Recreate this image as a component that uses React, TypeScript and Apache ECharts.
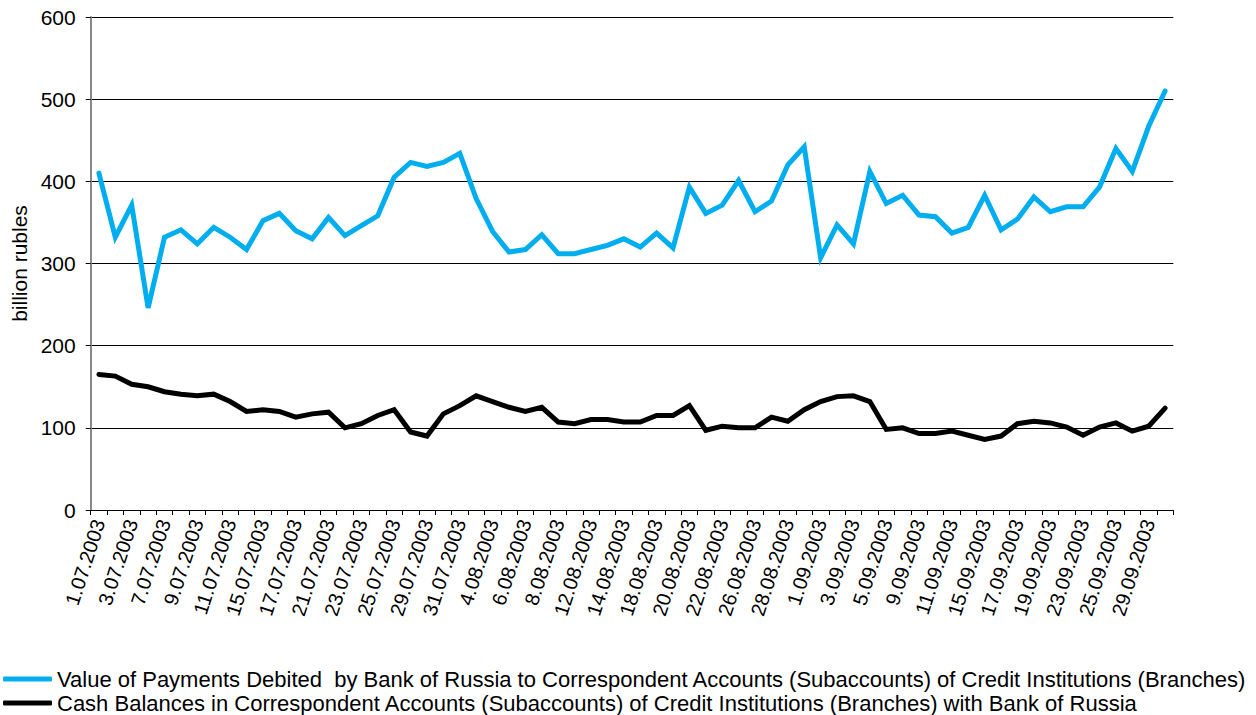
import React, { useEffect, useRef } from "react";
import * as echarts from "echarts";

const dates: string[] = [
  "1.07.2003", "2.07.2003", "3.07.2003", "4.07.2003", "7.07.2003", "8.07.2003", "9.07.2003", "10.07.2003",
  "11.07.2003", "14.07.2003", "15.07.2003", "16.07.2003", "17.07.2003", "18.07.2003", "21.07.2003", "22.07.2003",
  "23.07.2003", "24.07.2003", "25.07.2003", "28.07.2003", "29.07.2003", "30.07.2003", "31.07.2003",
  "1.08.2003", "4.08.2003", "5.08.2003", "6.08.2003", "7.08.2003", "8.08.2003", "11.08.2003", "12.08.2003",
  "13.08.2003", "14.08.2003", "15.08.2003", "18.08.2003", "19.08.2003", "20.08.2003", "21.08.2003", "22.08.2003",
  "25.08.2003", "26.08.2003", "27.08.2003", "28.08.2003", "29.08.2003",
  "1.09.2003", "2.09.2003", "3.09.2003", "4.09.2003", "5.09.2003", "8.09.2003", "9.09.2003", "10.09.2003",
  "11.09.2003", "12.09.2003", "15.09.2003", "16.09.2003", "17.09.2003", "18.09.2003", "19.09.2003", "22.09.2003",
  "23.09.2003", "24.09.2003", "25.09.2003", "26.09.2003", "29.09.2003", "30.09.2003",
];

const paymentsDebited: number[] = [
  410, 332, 371, 246, 332, 341, 324, 344, 332, 317, 352, 361, 340, 330, 356, 334, 346, 358, 405, 423, 418, 423, 434,
  379, 339, 314, 317, 335, 312, 312, 317, 322, 330, 320, 337, 319, 393, 361, 371, 401, 363, 376, 420, 442, 307, 347, 324,
  412, 373, 383, 359, 357, 337, 344, 383, 341, 354, 381, 363, 369, 369, 393, 440, 412, 467, 510,
];

const cashBalances: number[] = [
  165, 163, 153, 150, 144, 141, 139, 141, 132, 120, 122, 120, 113, 117, 119, 100, 105, 115, 122, 95, 90, 117, 127,
  139, 132, 125, 120, 125, 107, 105, 110, 110, 107, 107, 115, 115, 127, 97, 102, 100, 100, 113, 108, 122, 132, 138, 139,
  132, 98, 100, 93, 93, 96, 91, 86, 90, 105, 108, 106, 101, 91, 101, 106, 96, 102, 124,
];

const seriesNames: string[] = [
  "Value of Payments Debited  by Bank of Russia to Correspondent Accounts (Subaccounts) of Credit Institutions (Branches)",
  "Cash Balances in Correspondent Accounts (Subaccounts) of Credit Institutions (Branches) with Bank of Russia",
];

const yAxisName = "billion rubles";

const FONT = "'Liberation Sans', Arial, Helvetica, sans-serif";

export default function App() {
  const ref = useRef<HTMLDivElement>(null);
  useEffect(() => {
    if (!ref.current) return;
    const chart = echarts.init(ref.current, undefined, { renderer: "svg" });
    chart.setOption({
      animation: false,
      backgroundColor: "#ffffff",
      textStyle: { fontFamily: FONT, color: "#000" },
      grid: { left: 90.7, right: 82.7, top: 17, bottom: 205, containLabel: false },
      legend: {
        orient: "vertical",
        left: 3,
        top: 668,
        itemWidth: 49,
        itemHeight: 5,
        itemGap: 2,
        icon: "roundRect",
        padding: 0,
        textStyle: { fontSize: 22, color: "#000", fontFamily: FONT },
        data: [seriesNames[0], seriesNames[1]],
      },
      xAxis: {
        type: "category",
        data: dates,
        boundaryGap: true,
        axisLine: { show: true, lineStyle: { color: "#000", width: 1 } },
        axisTick: { show: true, interval: 0, length: 5, lineStyle: { color: "#000" } },
        axisLabel: {
          interval: 1,
          rotate: 72,
          margin: 10,
          fontSize: 20,
          color: "#000",
          fontFamily: FONT,
        },
        splitLine: { show: false },
      },
      yAxis: {
        type: "value",
        min: 0,
        max: 600,
        interval: 100,
        name: yAxisName,
        nameLocation: "middle",
        nameRotate: 90,
        nameGap: 60,
        nameTextStyle: { fontSize: 21, color: "#000", fontFamily: FONT },
        axisLine: { show: true, lineStyle: { color: "#888888", width: 2 } },
        axisTick: { show: true, length: 5, lineStyle: { color: "#000" } },
        axisLabel: { fontSize: 21, color: "#000", margin: 15, fontFamily: FONT },
        splitLine: { show: true, lineStyle: { color: "#000", width: 1 } },
      },
      series: [
        {
          name: seriesNames[0],
          type: "line",
          data: paymentsDebited,
          symbol: "none",
          color: "#00AEEF",
          lineStyle: { color: "#00AEEF", width: 5, join: "miter", cap: "round" },
          z: 3,
        },
        {
          name: seriesNames[1],
          type: "line",
          data: cashBalances,
          symbol: "none",
          color: "#000000",
          lineStyle: { color: "#000000", width: 5, join: "miter", cap: "round" },
          z: 3,
        },
      ],
    });
    return () => chart.dispose();
  }, []);
  return (
    <div
      ref={ref}
      style={{ position: "fixed", left: 0, top: 0, width: 1256, height: 715, background: "#fff" }}
    />
  );
}
